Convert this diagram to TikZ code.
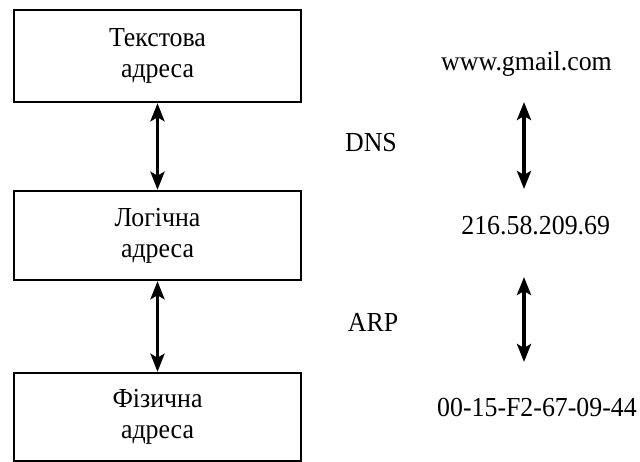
\documentclass[tikz,border=0pt]{standalone}
\usepackage{fontspec}
\setmainfont{Liberation Serif}
\usetikzlibrary{arrows.meta}
\newcommand{\narrowtxt}[1]{\scalebox{0.94}[1]{#1}}
\begin{document}
\begin{tikzpicture}[x=1pt,y=-1pt,
  every node/.style={font=\fontsize{27.5}{31}\selectfont, inner sep=0pt},
  addrbox/.style={draw, line width=2.5pt, minimum width=287pt, align=center},
  biarrow/.style={line width=3.5pt, {Stealth[length=18pt,width=14pt,inset=4pt]}-{Stealth[length=18pt,width=14pt,inset=4pt]}},
  lbl/.style={anchor=base}]
\useasboundingbox (0,0) rectangle (640,462);
\node[addrbox, minimum height=92pt] (b1) at (157.5,56) {\narrowtxt{Текстова}\\\narrowtxt{адреса}};
\node[addrbox, minimum height=89pt] (b2) at (157.5,235.5) {\narrowtxt{Логічна}\\\narrowtxt{адреса}};
\node[addrbox, minimum height=88pt] (b3) at (157.5,417) {\narrowtxt{Фізична}\\\narrowtxt{адреса}};
\draw[biarrow] (b1.south) -- (b2.north);
\draw[biarrow] (b2.south) -- (b3.north);
\node[lbl] (www) at (526.5,70.7) {\narrowtxt{www.gmail.com}};
\node[lbl] (ip) at (535.7,235) {\narrowtxt{216.58.209.69}};
\node[lbl] (mac) at (537,416.7) {\narrowtxt{00-15-F2-67-09-44}};
\node[lbl] (dns) at (371,151.7) {\narrowtxt{DNS}};
\node[lbl] (arp) at (373,332) {\narrowtxt{ARP}};
\coordinate (r1t) at (524,102);
\coordinate (r1b) at (524,189);
\coordinate (r2t) at (524,277);
\coordinate (r2b) at (524,362);
\draw[biarrow] (r1t) -- (r1b);
\draw[biarrow] (r2t) -- (r2b);
\end{tikzpicture}
\end{document}
